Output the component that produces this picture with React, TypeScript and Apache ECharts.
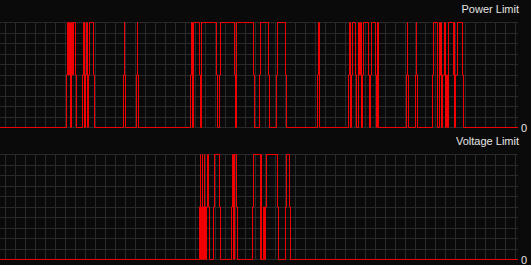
import React, { useEffect, useRef } from "react";
import * as echarts from "echarts";

// Sample times (change points) and the level held from that time on
const powerTimes = [
  0,
  71, 72, 73, 74, 75, 76, 77, 78, 80, 81,
  87, 88, 89, 90, 91, 92, 93, 94, 98, 99,
  128, 129, 129, 130,
  141, 142, 142, 143,
  195, 196, 197, 198, 204, 205, 206,
  221, 222, 224, 225, 239, 240, 241,
  258, 259, 264, 265, 273, 274, 281, 282, 290, 291,
  322, 323, 324,
  353, 354, 355, 356, 357, 360, 361, 363, 364, 365, 366, 367, 368, 373, 374, 375, 376, 380, 381, 382, 383,
  411, 412, 412, 413, 420, 421, 421, 422,
  437, 438, 442, 444, 445, 446, 446, 447, 449, 450, 451, 452, 453, 458, 459, 459, 460, 462, 467, 468,
  522.5,
];
const powerLevels = [
  0,
  1, 2, 1, 2, 0, 2, 1, 2, 1, 0,
  1, 2, 0, 1, 2, 0, 1, 2, 1, 0,
  1, 2, 1, 0,
  1, 2, 1, 0,
  1, 2, 0, 2, 1, 0, 2,
  1, 0, 1, 2, 1, 0, 2,
  1, 0, 1, 2, 1, 0, 1, 2, 1, 0,
  1, 2, 0,
  1, 2, 0, 1, 2, 1, 0, 2, 1, 2, 0, 1, 2, 1, 0, 1, 2, 1, 0, 2, 0,
  1, 2, 1, 0, 1, 2, 1, 0,
  1, 2, 0, 2, 1, 2, 0, 1, 2, 0, 1, 0, 2, 1, 2, 0, 1, 2, 1, 0,
  0,
];

const voltageTimes = [
  0,
  204, 205, 205, 206, 207, 207, 208, 209, 209, 210, 211, 211, 212, 213, 214,
  218, 219, 224, 225,
  236, 237, 238, 239, 241, 242,
  257, 258, 265, 266, 266, 268, 269, 270, 271, 282, 283,
  290, 291, 294, 295,
  522.5,
];
const voltageLevels = [
  0,
  1, 2, 0, 1, 2, 0, 1, 2, 0, 1, 0, 1, 2, 1, 0,
  1, 2, 1, 0,
  1, 2, 0, 2, 1, 0,
  1, 2, 0, 2, 0, 1, 0, 1, 2, 1, 0,
  1, 2, 1, 0,
  0,
];

const panelTitles = ["Power Limit", "Voltage Limit"];
const levelMin = 0;
const levelMax = 2;
const timeMax = 522.5;

const BG = "#0a0a0a";
const GRIDC = "#2a2a2a";
const RED = "#f00000";
const TXT = "#e4e4e4";
const FONT = '"Liberation Sans", Arial, sans-serif';

function pairs(t: number[], v: number[]) {
  return t.map((x, i) => [x, v[i]]);
}

export default function App() {
  const ref = useRef<HTMLDivElement>(null);
  useEffect(() => {
    if (!ref.current) return;
    const chart = echarts.init(ref.current, undefined, { renderer: "svg" });
    const gridTops = [22.5, 154.5];
    const xAxis = gridTops.map((_, i) => ({
      type: "value",
      gridIndex: i,
      min: 0,
      max: timeMax,
      interval: 10,
      axisLine: { show: false },
      axisTick: { show: false },
      axisLabel: { show: false },
      splitLine: {
        show: true,
        showMinLine: false,
        showMaxLine: false,
        lineStyle: { color: GRIDC, width: 1 },
      },
    }));
    const yAxis = gridTops.map((_, i) => ({
      type: "value",
      gridIndex: i,
      position: "right",
      min: levelMin,
      max: levelMax,
      interval: 0.2,
      axisLine: { show: false },
      axisTick: { show: false },
      axisLabel: {
        show: true,
        margin: 3,
        color: TXT,
        fontSize: 11,
        fontFamily: FONT,
        formatter: (v: number) => (v === 0 ? "0" : ""),
      },
      splitLine: { show: true, lineStyle: { color: GRIDC, width: 1 } },
    }));
    const titleText = (text: string, y: number) => ({
      type: "text",
      x: 519,
      y,
      style: {
        text,
        fill: TXT,
        font: `11px ${FONT}`,
        textAlign: "right",
        textVerticalAlign: "middle",
        align: "right",
        verticalAlign: "middle",
      },
    });
    chart.setOption({
      animation: false,
      backgroundColor: BG,
      grid: gridTops.map((top) => ({
        left: -4.5,
        right: 13,
        top,
        height: 105,
        containLabel: false,
        outerBoundsMode: "none",
      })),
      xAxis,
      yAxis,
      graphic: [titleText(panelTitles[0], 9), titleText(panelTitles[1], 141)],
      series: [
        {
          type: "line",
          xAxisIndex: 0,
          yAxisIndex: 0,
          step: "end",
          symbol: "none",
          data: pairs(powerTimes, powerLevels),
          lineStyle: { color: RED, width: 1 },
        },
        {
          type: "line",
          xAxisIndex: 1,
          yAxisIndex: 1,
          step: "end",
          symbol: "none",
          data: pairs(voltageTimes, voltageLevels),
          lineStyle: { color: RED, width: 1 },
        },
      ],
    });
    return () => chart.dispose();
  }, []);
  return (
    <div
      ref={ref}
      style={{ position: "fixed", left: 0, top: 0, width: 531, height: 265, background: BG }}
    />
  );
}
